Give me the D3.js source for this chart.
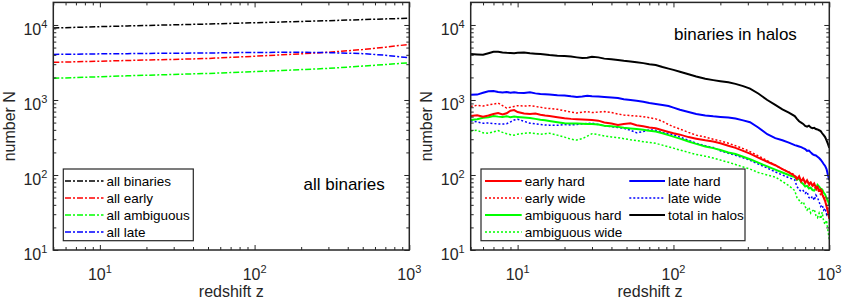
<!doctype html>
<html>
<head>
  <meta charset="UTF-8">
<style>
  body { margin: 0; background: #fff; }
  svg text { font-family: "Liberation Sans", Arial, Helvetica, sans-serif; }
</style>
<script src="https://d3js.org/d3.v7.min.js"></script>
</head>
<body>
<svg id="chart" width="843" height="303"></svg>
<script>

// left panel: all binaries
var zAll = [5, 7, 10, 15, 20, 30, 50, 70, 100, 150, 200, 300, 500, 700, 1000];
var allBinaries  = [9100, 9300, 9500, 9700, 9850, 10050, 10300, 10500, 10700, 10950, 11150, 11400, 11800, 12050, 12300];
var allEarly     = [3180, 3230, 3290, 3360, 3410, 3470, 3580, 3700, 3830, 4000, 4130, 4330, 4700, 5050, 5520];
var allAmbiguous = [1950, 1990, 2040, 2100, 2140, 2190, 2260, 2320, 2390, 2470, 2540, 2640, 2830, 2970, 3140];
var allLate      = [4050, 4080, 4120, 4150, 4180, 4200, 4230, 4270, 4300, 4320, 4320, 4280, 4150, 3950, 3650];

// right panel: binaries in halos
var zHalo = [5, 5.5, 6, 6.5, 7, 7.5, 8, 8.5, 9, 9.5,
  10, 11, 12, 13, 14, 15, 16,
  18, 20, 22, 24, 26, 28, 30,
  33, 36, 40, 44, 48, 53, 58, 64, 70, 77, 85, 93,
  100, 110, 125, 140, 160, 180, 200, 225, 250, 280, 310, 350, 400, 450, 500, 550,
  600, 620, 640, 660, 680, 700, 720, 740, 760, 780, 800, 820, 840, 860, 880, 900, 920, 940, 960, 980, 1000];

var totalInHalos = [4100, 4050, 4000, 4200, 4400, 4380, 4300, 4250, 4220, 4200,
  4250, 4280, 4200, 4150, 4100, 4050, 3980,
  3900, 3850, 3800, 3700, 3620, 3650, 3780,
  3700, 3560, 3480, 3420, 3330, 3260, 3180, 3100, 3000, 2930, 2750, 2620,
  2520, 2380, 2200, 2060, 1920, 1840, 1780, 1720, 1640, 1530, 1420, 1220, 1000, 860, 750, 680,
  610, 560, 520, 500, 480, 450, 440, 455, 430, 420, 425, 410, 405, 395, 385, 360, 340, 320, 290, 260, 230];

var lateHard = [1170, 1180, 1250, 1310, 1320, 1280, 1260, 1275, 1250, 1265,
  1250, 1240, 1270, 1225, 1200, 1190, 1180,
  1160, 1150, 1120, 1100, 1110, 1140, 1120,
  1110, 1100, 1080, 1060, 1020, 1000, 980, 950, 910, 885, 860, 830,
  790, 740, 690, 650, 620, 605, 595, 585, 565, 535, 505, 430, 350, 310, 290, 270,
  250, 245, 240, 235, 228, 222, 210, 212, 200, 190, 185, 182, 175, 168, 160, 150, 140, 132, 120, 100, 86];

var earlyWide = [820, 850, 830, 860, 880, 910, 840, 780, 800, 820,
  840, 830, 840, 820, 800, 780, 770,
  750, 720, 690, 670, 690, 700, 680,
  690, 700, 680, 650, 630, 620, 610, 600, 580, 560, 520, 470,
  440, 410, 370, 340, 320, 300, 285, 265, 245, 225, 205, 180, 155, 135, 120, 110,
  100, 92, 95, 84, 88, 80, 85, 72, 78, 70, 74, 62, 66, 58, 55, 60, 48, 50, 40, 36, 30];

var earlyHard = [610, 625, 600, 620, 650, 670, 640, 665, 720, 735,
  690, 660, 650, 660, 635, 620, 610,
  590, 570, 560, 555, 550, 545, 540,
  530, 500, 485, 465, 480, 490, 460, 445, 430, 420, 395, 375,
  360, 345, 320, 305, 290, 280, 265, 245, 230, 210, 193, 170, 150, 135, 120, 108,
  97, 88, 96, 82, 90, 78, 85, 76, 80, 72, 77, 68, 70, 62, 64, 55, 50, 45, 38, 32, 26];

var ambiguousHard = [540, 555, 580, 590, 610, 600, 595, 605, 590, 600,
  595, 585, 575, 560, 545, 535, 525,
  505, 490, 485, 485, 482, 480, 478,
  470, 455, 448, 438, 425, 418, 410, 400, 390, 380, 360, 340,
  325, 305, 280, 260, 240, 228, 215, 200, 190, 175, 162, 146, 130, 118, 108, 100,
  94, 86, 90, 80, 76, 70, 72, 66, 68, 63, 62, 66, 74, 70, 66, 64, 58, 55, 49, 45, 40];

var lateWide = [530, 510, 490, 495, 485, 480, 478, 482, 510, 540,
  555, 520, 490, 480, 470, 465, 462,
  460, 470, 465, 470, 480, 485, 490,
  470, 455, 440, 430, 420, 395, 365, 380, 400, 395, 370, 355,
  345, 320, 290, 265, 245, 232, 210, 195, 183, 170, 157, 140, 124, 110, 100, 92,
  86, 70, 64, 60, 62, 57, 60, 50, 48, 52, 46, 54, 50, 44, 38, 40, 34, 36, 30, 33, 28];

var ambiguousWide = [385, 395, 365, 360, 375, 390, 370, 355, 345, 340,
  350, 360, 365, 358, 350, 355, 360,
  340, 320, 300, 292, 305, 330, 355,
  345, 330, 322, 315, 305, 295, 288, 278, 272, 264, 250, 238,
  228, 215, 200, 188, 178, 168, 158, 148, 138, 128, 120, 108, 100, 94, 82, 72,
  62, 50, 46, 42, 44, 38, 34, 37, 31, 33, 35, 29, 27, 31, 26, 32, 24, 22, 25, 18, 14];

var xTicks = [10, 100, 1000];
var yTicks = [10, 100, 1000, 10000];
var xMinor = [5, 6, 7, 8, 9, 20, 30, 40, 50, 60, 70, 80, 90, 200, 300, 400, 500, 600, 700, 800, 900];
var yMinor = [20, 30, 40, 50, 60, 70, 80, 90, 200, 300, 400, 500, 600, 700, 800, 900,
  2000, 3000, 4000, 5000, 6000, 7000, 8000, 9000];

var DASHDOT = "6,2,2,2", DOTTED = "2,2";
var axisColor = "#262626";

var svg = d3.select("#chart");

function supLabel(sel) {
  sel.each(function(d) {
    var t = d3.select(this);
    t.text(null);
    t.append("tspan").text("10");
    t.append("tspan").attr("dy", -7).attr("font-size", 11).text(Math.round(Math.log10(d)));
  });
}

function makePanel(left, right) {
  var top = 2.4, bottom = 250;
  var x = d3.scaleLog().domain([5, 1000]).range([left, right]);
  var y = d3.scaleLog().domain([10, 20000]).range([bottom, top]);
  var g = svg.append("g");

  var clipId = "clip" + Math.round(left);
  svg.append("clipPath").attr("id", clipId).append("rect")
    .attr("x", left).attr("y", top).attr("width", right - left).attr("height", bottom - top);
  var plot = g.append("g").attr("clip-path", "url(#" + clipId + ")");

  // inward ticks on all four sides
  var sides = [
    [d3.axisBottom(x), "translate(0," + bottom + ")", xTicks, xMinor],
    [d3.axisTop(x), "translate(0," + top + ")", xTicks, xMinor],
    [d3.axisLeft(y), "translate(" + left + ",0)", yTicks, yMinor],
    [d3.axisRight(y), "translate(" + right + ",0)", yTicks, yMinor]
  ];
  sides.forEach(function(s, i) {
    [[s[2], -5], [s[3], -3]].forEach(function(m) {
      var ax = g.append("g").attr("transform", s[1])
        .call(s[0].tickValues(m[0]).tickSize(m[1]).tickFormat(""));
      ax.select(".domain").remove();
      ax.selectAll("line").attr("stroke", axisColor).attr("stroke-width", 1);
    });
  });

  // tick labels
  g.append("g").selectAll("text").data(xTicks).join("text")
    .attr("x", function(d) { return x(d); }).attr("y", bottom + 30)
    .attr("text-anchor", "middle").attr("font-size", 16).attr("fill", axisColor)
    .call(supLabel);
  g.append("g").selectAll("text").data(yTicks).join("text")
    .attr("x", left - 6).attr("y", function(d) { return y(d) + 10; })
    .attr("text-anchor", "end").attr("font-size", 16).attr("fill", axisColor)
    .call(supLabel);

  g.append("rect").attr("x", left).attr("y", top)
    .attr("width", right - left).attr("height", bottom - top)
    .attr("fill", "none").attr("stroke", axisColor).attr("stroke-width", 1.5);

  g.append("text").attr("x", (left + right) / 2).attr("y", 297)
    .attr("text-anchor", "middle").attr("font-size", 16).attr("fill", axisColor)
    .text("redshift z");
  g.append("text")
    .attr("transform", "translate(" + (left - 38.5) + "," + ((top + bottom) / 2) + ") rotate(-90)")
    .attr("text-anchor", "middle").attr("font-size", 16).attr("fill", axisColor)
    .text("number N");

  return { x: x, y: y, g: g, plot: plot };
}

function drawSeries(p, zs, vals, s) {
  var line = d3.line()
    .x(function(d, i) { return p.x(zs[i]); })
    .y(function(d) { return p.y(d); });
  p.plot.append("path").datum(vals)
    .attr("d", line).attr("fill", "none")
    .attr("stroke", s.color).attr("stroke-width", s.width)
    .attr("stroke-dasharray", s.dash);
}

function drawLegend(p, box, cols) {
  var lg = p.g.append("g");
  lg.append("rect").attr("x", box[0]).attr("y", box[1])
    .attr("width", box[2]).attr("height", box[3])
    .attr("fill", "#fff").attr("stroke", axisColor).attr("stroke-width", 1.2);
  cols.forEach(function(col) {
    col.items.forEach(function(s, i) {
      var cy = box[1] + 12 + i * 17;
      lg.append("line").attr("x1", col.x).attr("x2", col.x + col.len)
        .attr("y1", cy).attr("y2", cy)
        .attr("stroke", s.color).attr("stroke-width", s.width)
        .attr("stroke-dasharray", s.dash);
      lg.append("text").attr("x", col.x + col.len + 3).attr("y", cy + 4.8)
        .attr("font-size", 13.5).attr("fill", "#000").text(s.name);
    });
  });
}

// ---- left panel
var p1 = makePanel(53.3, 409.3);
var leftSeries = [
  { name: "all binaries", vals: allBinaries, color: "#000", width: 1.5, dash: DASHDOT },
  { name: "all early", vals: allEarly, color: "#ff0000", width: 1.5, dash: DASHDOT },
  { name: "all ambiguous", vals: allAmbiguous, color: "#00ff00", width: 1.5, dash: DASHDOT },
  { name: "all late", vals: allLate, color: "#0000ff", width: 1.5, dash: DASHDOT }
];
leftSeries.forEach(function(s) { drawSeries(p1, zAll, s.vals, s); });
drawLegend(p1, [63.3, 169, 130, 71.7], [{ x: 65, len: 38.5, items: leftSeries }]);
p1.g.append("text").attr("x", 303.5).attr("y", 189.5).attr("font-size", 17).attr("fill", "#000")
  .text("all binaries");

// ---- right panel
var p2 = makePanel(470.7, 829.3);
var earlySty = [
  { name: "early hard", vals: earlyHard, color: "#ff0000", width: 2, dash: null },
  { name: "early wide", vals: earlyWide, color: "#ff0000", width: 1.5, dash: DOTTED },
  { name: "ambiguous hard", vals: ambiguousHard, color: "#00ff00", width: 2, dash: null },
  { name: "ambiguous wide", vals: ambiguousWide, color: "#00ff00", width: 1.5, dash: DOTTED }
];
var lateSty = [
  { name: "late hard", vals: lateHard, color: "#0000ff", width: 2, dash: null },
  { name: "late wide", vals: lateWide, color: "#0000ff", width: 1.5, dash: DOTTED },
  { name: "total in halos", vals: totalInHalos, color: "#000", width: 2, dash: null }
];
[earlySty[3], lateSty[1], earlySty[2], earlySty[1], earlySty[0], lateSty[0], lateSty[2]]
  .forEach(function(s) { drawSeries(p2, zHalo, s.vals, s); });
drawLegend(p2, [481, 169, 264, 71.7], [
  { x: 485, len: 36.7, items: earlySty },
  { x: 629.3, len: 35.7, items: lateSty }
]);
p2.g.append("text").attr("x", 674).attr("y", 39.5).attr("font-size", 17).attr("fill", "#000")
  .text("binaries in halos");

</script>
</body>
</html>
